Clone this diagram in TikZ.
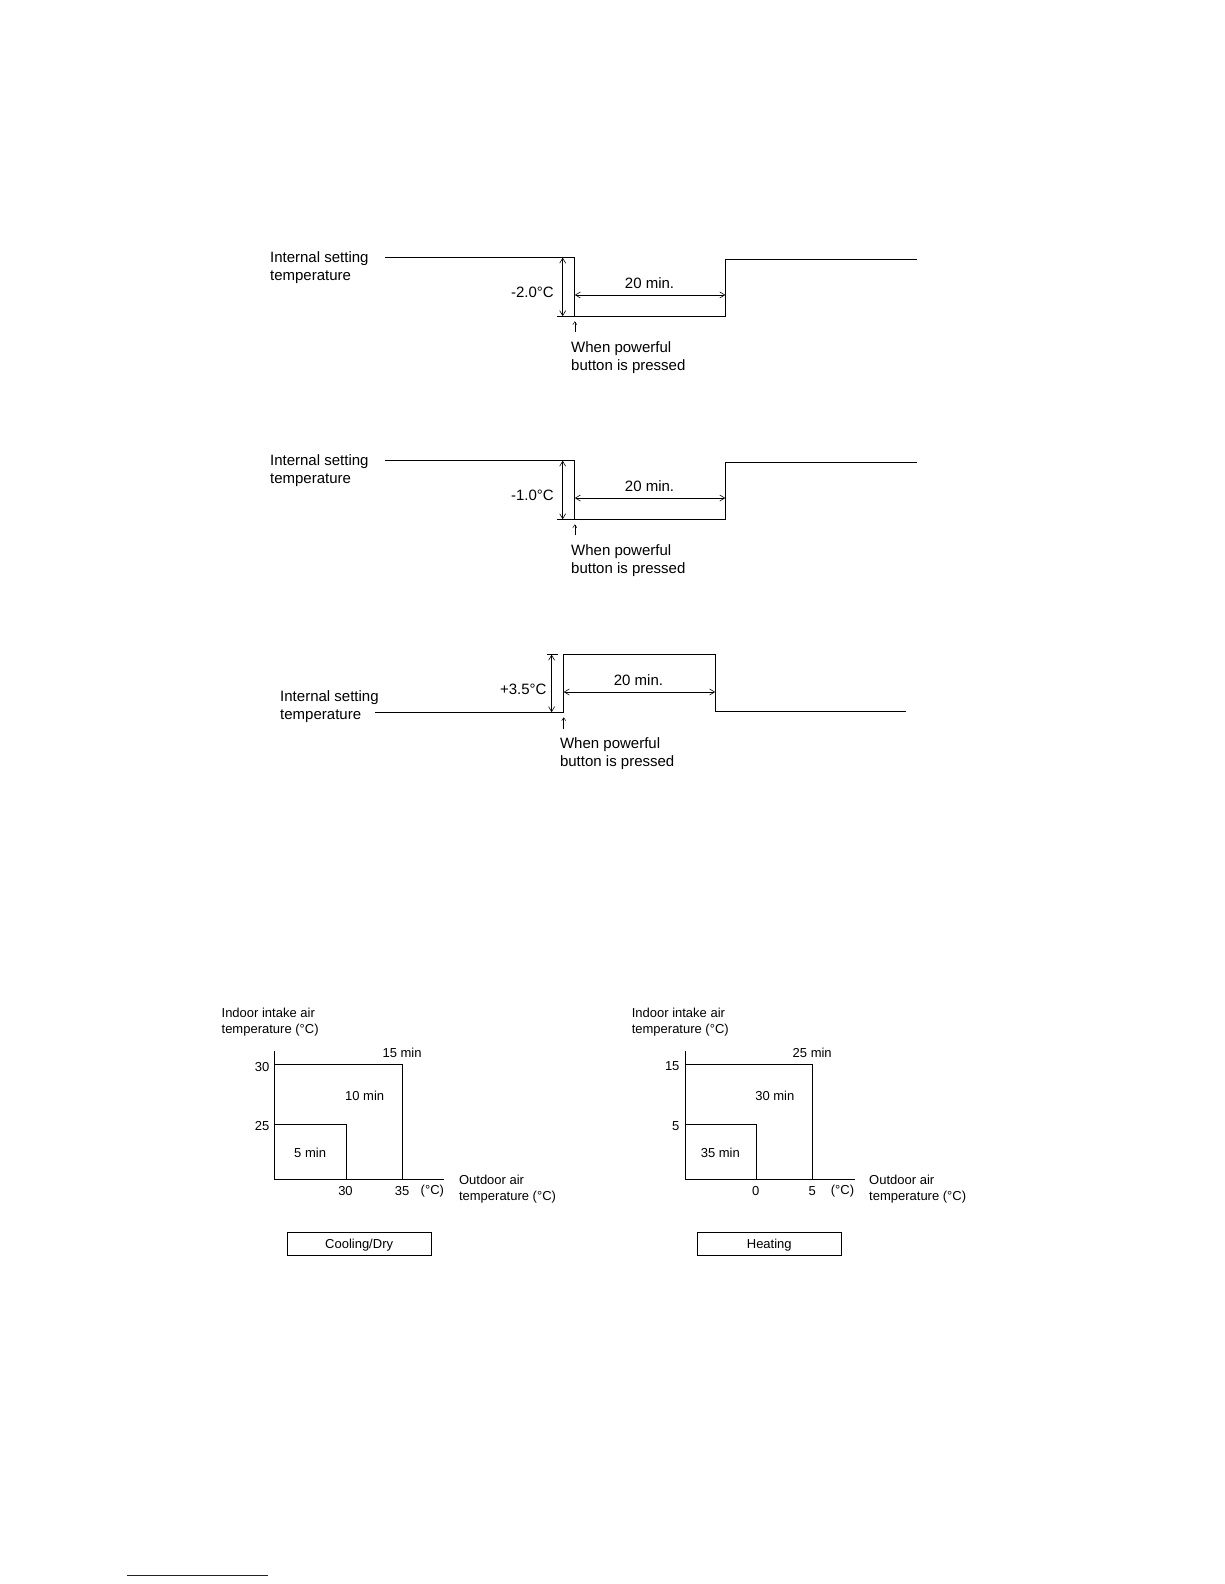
\documentclass[tikz,border=0pt]{standalone}
\usepackage{fontspec}
\setmainfont{Liberation Sans}
\usetikzlibrary{arrows.meta}
\definecolor{linkblue}{RGB}{20,20,140}
\begin{document}
\begin{tikzpicture}[x=1.0099pt,y=-1.0099pt,line width=0.8pt,
  big/.style={font=\fontsize{15}{18.2}\selectfont,inner sep=0pt,yshift=-1.8pt},
  small/.style={font=\fontsize{13}{16.2}\selectfont,inner sep=0pt,yshift=-1.8pt},
  dim/.style={{Straight Barb[length=5pt,width=6pt]}-{Straight Barb[length=5pt,width=6pt]},line width=0.6pt},
  ptr/.style={-{Straight Barb[length=3pt,width=4pt]},line width=0.5pt},
  modebox/.style={draw,font=\fontsize{13}{16.2}\selectfont,inner sep=0pt,minimum width=144pt,minimum height=23.5pt,text depth=0pt,text height=9.5pt}]
\useasboundingbox (0,0) rectangle (1212,1568);

% ---- Diagrams 1 and 2 (cooling / dry) ----
\foreach \dy/\lab/\nm in {0/-2.0°C/p, 201/-1.0°C/q}{
\begin{scope}[shift={(0,\dy)}]
  \coordinate (\nm1) at (381,255);
  \coordinate (\nm2) at (569,255);
  \coordinate (\nm3) at (569,313);
  \coordinate (\nm4) at (718,313);
  \coordinate (\nm5) at (718,257);
  \coordinate (\nm6) at (908,257);
  \coordinate (\nm7) at (551,313);
  \coordinate (\nm8) at (557,255);
  \coordinate (\nm9) at (557,313);
  \coordinate (\nm10) at (569,292);
  \coordinate (\nm11) at (718,292);
  \coordinate (\nm12) at (569,329);
  \coordinate (\nm13) at (569,318);
  \draw (\nm1) -- (\nm2) -- (\nm3) -- (\nm4) -- (\nm5) -- (\nm6);
  \draw (\nm7) -- (\nm3);
  \draw[dim] (\nm8) -- (\nm9);
  \draw[dim] (\nm10) -- (\nm11);
  \draw[ptr] (\nm12) -- (\nm13);
  \node[big,anchor=west,align=left] (\nm t1) at (267,263) {Internal setting\\temperature};
  \node[big] (\nm t2) at (527,288) {\lab};
  \node[big] (\nm t3) at (643,278) {20 min.};
  \node[big,anchor=west,align=left] (\nm t4) at (565,352) {When powerful\\button is pressed};
\end{scope}
}

% ---- Diagram 3 (heating) ----
\coordinate (r1) at (371,705);
\coordinate (r2) at (558,705);
\coordinate (r3) at (558,648);
\coordinate (r4) at (708,648);
\coordinate (r5) at (708,704);
\coordinate (r6) at (897,704);
\coordinate (r7) at (541,648);
\coordinate (r8) at (552,648);
\draw (r1) -- (r2) -- (r3) -- (r4) -- (r5) -- (r6);
\draw (r7) -- (r8);
\coordinate (r9) at (546,648);
\coordinate (r10) at (546,705);
\draw[dim] (r9) -- (r10);
\coordinate (r11) at (558,685);
\coordinate (r12) at (708,685);
\draw[dim] (r11) -- (r12);
\coordinate (r13) at (558,722);
\coordinate (r14) at (558,710);
\draw[ptr] (r13) -- (r14);
\node[big,anchor=west,align=left] (rt1) at (277,698) {Internal setting\\temperature};
\node[big] (rt2) at (518,681) {+3.5°C};
\node[big] (rt3) at (632,671) {20 min.};
\node[big,anchor=west,align=left] (rt4) at (554,744) {When powerful\\button is pressed};

% ---- Charts ----
\foreach \dx/\ya/\yb/\xa/\xb/\ta/\tb/\tc/\mode/\nm in
  {0/30/25/30/35/15 min/10 min/5 min/Cooling\slash Dry/c,
   406/15/5/0/5/25 min/30 min/35 min/Heating/h}{
\begin{scope}[shift={(\dx,0)}]
  \coordinate (\nm o) at (272,1167);
  \coordinate (\nm y) at (272,1040);
  \coordinate (\nm x) at (440,1167);
  \coordinate (\nm a1) at (272,1054);
  \coordinate (\nm a2) at (398,1054);
  \coordinate (\nm a3) at (398,1167);
  \coordinate (\nm b1) at (272,1113);
  \coordinate (\nm b2) at (343,1113);
  \coordinate (\nm b3) at (343,1167);
  \draw (\nm y) -- (\nm o) -- (\nm x);
  \draw (\nm a1) -- (\nm a2) -- (\nm a3);
  \draw (\nm b1) -- (\nm b2) -- (\nm b3);
  \node[small,anchor=east] (\nm l1) at (267,1054) {\ya};
  \node[small,anchor=east] (\nm l2) at (267,1113) {\yb};
  \node[small] (\nm l3) at (342,1177) {\xa};
  \node[small] (\nm l4) at (398,1177) {\xb};
  \node[small] (\nm l5) at (428,1177) {(°C)};
  \node[small] (\nm l6) at (398,1040) {\ta};
  \node[small] (\nm l7) at (361,1083) {\tb};
  \node[small] (\nm l8) at (307,1139) {\tc};
  \node[small,anchor=west,align=left] (\nm l9) at (454,1175) {Outdoor air\\temperature (°C)};
  \node[small,anchor=west,align=left] (\nm l10) at (219,1010) {Indoor intake air\\temperature (°C)};
  \node[modebox] (\nm box) at (355.5,1231.5) {\mode};
\end{scope}
}

% ---- link underline at the bottom ----
\coordinate (u1) at (126,1559.5);
\coordinate (u2) at (265,1559.5);
\draw[linkblue,line width=1.4pt] (u1) -- (u2);
\end{tikzpicture}
\end{document}
